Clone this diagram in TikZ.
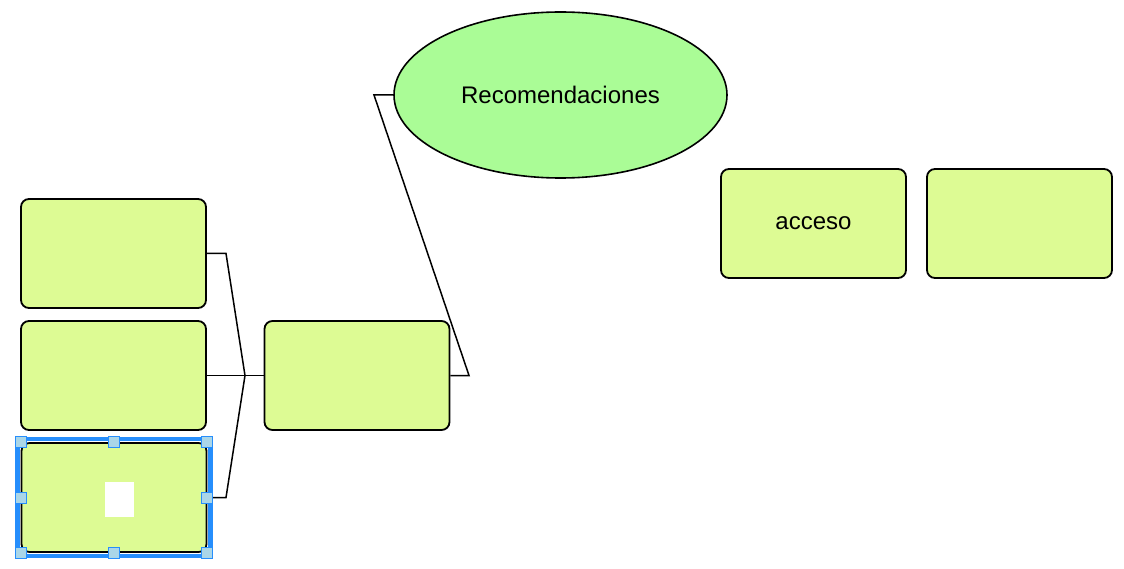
\documentclass[tikz,border=0pt]{standalone}
\usepackage{fontspec}
\setmainfont{Liberation Sans}
\usepackage{xcolor}
\usetikzlibrary{arrows.meta, positioning, shapes.geometric}
\definecolor{boxgreen}{RGB}{221,251,148}
\definecolor{ellgreen}{RGB}{170,252,150}
\definecolor{selblue}{RGB}{38,142,252}
\definecolor{handleblue}{RGB}{170,214,232}
\tikzset{
	topic/.style={draw, line width=1.8pt, rounded corners=8pt, fill=boxgreen,
		minimum width=185pt, minimum height=109pt, inner sep=0pt,
		font=\fontsize{24}{28}\selectfont},
	mainidea/.style={draw, line width=1.6pt, ellipse, fill=ellgreen,
		minimum width=333pt, minimum height=166pt, inner sep=0pt,
		font=\fontsize{24}{28}\selectfont},
	branch/.style={line width=1.5pt},
	handle/.style={draw=selblue, line width=1pt, fill=handleblue,
		minimum size=11pt, inner sep=0pt}
}

\begin{document}
\begin{tikzpicture}[x=1pt, y=-1pt]
				\useasboundingbox (0, 0) rectangle (1124, 569);

				\node[topic] (left1) at (113.5, 253.5) {};
				\node[topic] (left2) at (113.5, 375.5) {};
				\node[topic] (left3) at (114, 497.5) {};
				\node[topic] (middle) at (357, 375.5) {};
				\node[mainidea] (recom) at (560.5, 95) {Recomendaciones};
				\node[topic] (acceso) at (813.5, 223.5) {acceso};
				\node[topic] (right) at (1019.5, 223.5) {};

				\coordinate (join) at (245, 375.5);
				\coordinate (bend1) at (226, 253.5);
				\coordinate (bend3) at (226, 497.5);
				\coordinate (top) at (374, 95);
				\coordinate (low) at (469, 375.5);

				\draw[branch] (left1.east) -- (bend1) -- (join);
				\draw[branch] (left2.east) -- (join) -- (middle.west);
				\draw[branch] (left3.east) -- (bend3) -- (join);
				\draw[branch] (middle.east) -- (low) -- (top) -- (recom.west);

				% selection on the third box
				\node[fill=white, minimum width=29pt, minimum height=35pt, inner sep=0pt] (cursor) at (119.5, 499.5) {};
				\draw[selblue, line width=4.5pt] ([xshift=-3pt, yshift=3pt]left3.north west) rectangle ([xshift=3pt, yshift=-3pt]left3.south east);
				\foreach \a in {north west, north, north east, west, east, south west, south, south east}
					\node[handle] at (left3.\a) {};
			\end{tikzpicture}
\end{document}
